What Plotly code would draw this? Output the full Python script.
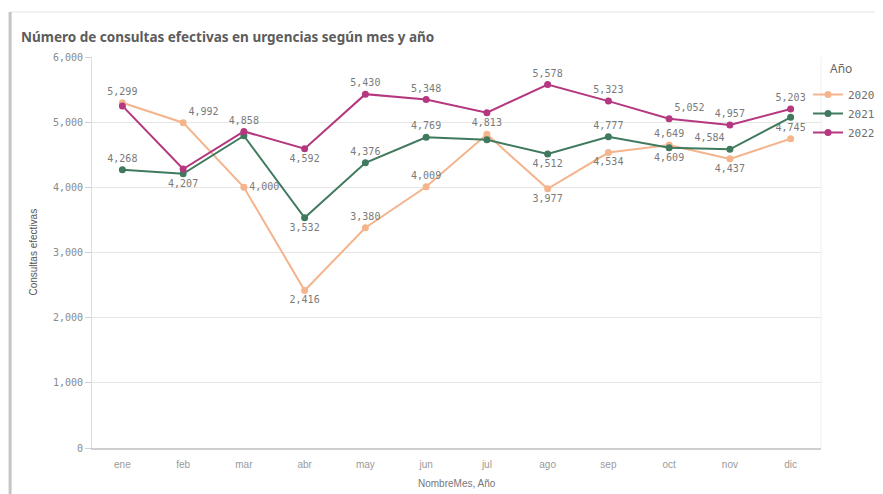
import plotly.graph_objects as go

months = ["ene", "feb", "mar", "abr", "may", "jun", "jul", "ago", "sep", "oct", "nov", "dic"]
years = ["2020", "2021", "2022"]
v2020 = [5299, 4992, 4000, 2416, 3380, 4009, 4813, 3977, 4534, 4649, 4437, 4745]
v2021 = [4268, 4207, 4792, 3532, 4376, 4769, 4730, 4512, 4777, 4609, 4584, 5075]
v2022 = [5250, 4281, 4858, 4592, 5430, 5348, 5146, 5578, 5323, 5052, 4957, 5203]
# which labels are shown (Qlik hides overlapping ones)
show2020 = [1, 1, 1, 1, 1, 1, 1, 1, 1, 1, 1, 1]
show2021 = [1, 1, 0, 1, 1, 1, 0, 1, 1, 1, 1, 0]
show2022 = [0, 0, 1, 1, 1, 1, 0, 1, 1, 1, 1, 1]
pos2020 = ["top center", "top right", "middle right", "bottom center", "top center", "top center",
           "top center", "bottom center", "bottom center", "top center", "bottom center", "top center"]
pos2021 = ["top center", "bottom center", "top center", "bottom center", "top center", "top center",
           "top center", "bottom center", "top center", "bottom center", "top left", "top center"]
pos2022 = ["top center", "top center", "top center", "bottom center", "top center", "top center",
           "top center", "top center", "top center", "top right", "top center", "top center"]
colors = ["#F4B48C", "#3F7A5E", "#B4377F"]

OFF = 8  # page body margin
W, H = 883, 494
# target page positions of plot area: x 92..822, y 57..448
L = 92 - OFF
T = 57 - OFF
R = W - (822 - OFF)
B = H - (448 - OFF)
pw, ph = W - L - R, H - T - B


def px(x):  # page px -> paper
    return (x - OFF - L) / pw


def py(y):  # page px -> paper
    return (H - B - (y - OFF)) / ph


fig = go.Figure()
for name, vals, show, pos, col in zip(years, [v2020, v2021, v2022], [show2020, show2021, show2022],
                                      [pos2020, pos2021, pos2022], colors):
    fig.add_trace(go.Scatter(
        x=months, y=vals, name=name, mode="lines+markers+text",
        line=dict(color=col, width=2), marker=dict(color=col, size=7),
        text=[f"{v:,}" if s else "" for v, s in zip(vals, show)],
        textposition=pos,
        textfont=dict(family="DejaVu Sans Mono", size=10, color="#7a7a7a"),
        cliponaxis=False,
    ))

fig.update_layout(
    width=W, height=H,
    margin=dict(l=L, r=R, t=T, b=B),
    paper_bgcolor="white", plot_bgcolor="white",
    showlegend=True,
    legend=dict(x=px(808), y=py(80), xanchor="left", yanchor="top",
                font=dict(family="DejaVu Sans Mono", size=11, color="#6e6e6e"),
                tracegroupgap=0, bgcolor="rgba(0,0,0,0)"),
    title=dict(text="<b>Número de consultas efectivas en urgencias según mes y año</b>",
               x=(21 - OFF) / W, xref="container", xanchor="left",
               y=1 - (37 - OFF) / H, yref="container", yanchor="middle",
               font=dict(family="Noto Sans", size=13.5, color="#5c5c5c")),
    xaxis=dict(type="category", range=[-0.5, 11.5], showgrid=False, zeroline=False,
               showline=True, linecolor="#cfcfcf", linewidth=1.5,
               ticks="outside", ticklen=6, tickcolor="rgba(0,0,0,0)",
               tickfont=dict(family="Liberation Sans", size=10, color="#9a9a9a")),
    yaxis=dict(range=[0, 6000], dtick=1000, tickformat=",", showgrid=True, gridcolor="#e6e6e6",
               zeroline=False, showline=True, linecolor="#dcdcdc", linewidth=1,
               ticks="outside", ticklen=6, tickcolor="#d0d0d0",
               tickfont=dict(family="DejaVu Sans Mono", size=10, color="#8a8a8a")),
)

# card frame
fig.add_shape(type="line", xref="paper", yref="paper", x0=px(10), x1=px(900), y0=py(12), y1=py(12),
              line=dict(color="#e6e6e6", width=1))
fig.add_shape(type="line", xref="paper", yref="paper", x0=px(10), x1=px(10), y0=py(12), y1=py(510),
              line=dict(color="#c4c4c4", width=3))
# plot right boundary
fig.add_shape(type="line", xref="paper", yref="paper", x0=1, x1=1, y0=0, y1=1,
              line=dict(color="#f0f0f0", width=1))

# axis titles and legend title
fig.add_annotation(text="Consultas efectivas", xref="paper", yref="paper", x=px(33), y=0.5,
                   textangle=-90, showarrow=False, xanchor="center", yanchor="middle",
                   font=dict(family="Liberation Sans", size=10, color="#555555"))
fig.add_annotation(text="NombreMes, Año", xref="paper", yref="paper", x=0.5, y=py(483),
                   showarrow=False, xanchor="center", yanchor="middle",
                   font=dict(family="Liberation Sans", size=10, color="#777777"))
fig.add_annotation(text="Año", xref="paper", yref="paper", x=px(829), y=py(69),
                   showarrow=False, xanchor="left", yanchor="middle",
                   font=dict(family="Noto Sans", size=12, color="#666666"))

fig.write_html("out.html")
